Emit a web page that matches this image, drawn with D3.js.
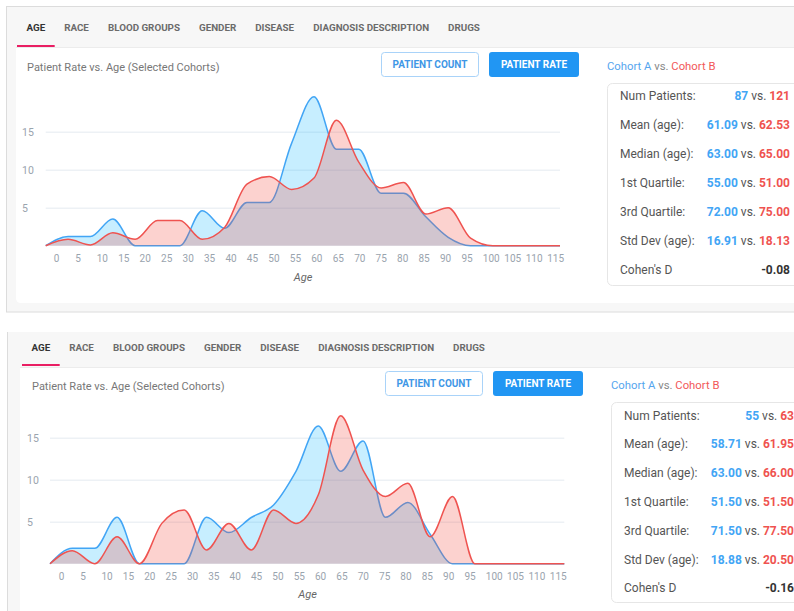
<!DOCTYPE html>
<html><head><meta charset="utf-8">
<script src="https://cdn.jsdelivr.net/npm/d3@7/dist/d3.min.js"></script>
<style>
html,body{margin:0;padding:0;background:#fff;overflow:hidden;}
svg{display:block;font-family:Roboto,"Noto Sans",Arial,sans-serif;}
</style></head>
<body>
<svg id="c" width="794" height="611"></svg>
<script>
// ---------- data ----------
const tabs = ["AGE","RACE","BLOOD GROUPS","GENDER","DISEASE","DIAGNOSIS DESCRIPTION","DRUGS"];
const ageCategories = [0,5,10,15,20,25,30,35,40,45,50,55,60,65,70,75,80,85,90,95,100,105,110,115];
const yTicks = [5,10,15];
const chartTitle = "Patient Rate vs. Age (Selected Cohorts)";
const xAxisTitle = "Age";
const buttons = ["PATIENT COUNT","PATIENT RATE"];
const cohortNames = ["Cohort A","Cohort B"];
const statLabels = ["Num Patients:","Mean (age):","Median (age):","1st Quartile:","3rd Quartile:","Std Dev (age):","Cohen's D"];

// panel 1 (top screenshot)
const rateA1 = [0,1.2,1.2,3.5,0,0,0,4.6,2.3,5.7,5.7,13.5,19.6,12.7,12.7,6.9,6.9,3.8,1.1,0,0,0,0,0];
const rateB1 = [0,0.84,0.1,1.7,0.84,3.3,3.3,0.84,2.4,8.1,9.1,7.4,8.9,16.5,11.0,7.6,8.3,4.17,5.0,1.0,0,0,0,0];
const statsA1 = ["87","61.09","63.00","55.00","72.00","16.91"];
const statsB1 = ["121","62.53","65.00","51.00","75.00","18.13"];
const cohenD1 = "-0.08";

// panel 2 (bottom screenshot)
const rateA2 = [0,1.83,1.83,5.52,0,0,0,5.52,3.7,5.5,7.0,11.0,16.4,11.0,14.6,5.52,7.3,3.5,0,0,0,0,0,0];
const rateB2 = [0,1.55,0,3.2,0,4.8,6.4,1.63,4.8,1.63,6.4,4.8,8.2,17.6,11.15,8.0,9.57,3.2,8.0,0,0,0,0,0];
const statsA2 = ["55","58.71","63.00","51.50","71.50","18.88"];
const statsB2 = ["63","61.95","66.00","51.50","77.50","20.50"];
const cohenD2 = "-0.16";

// ---------- style ----------
const BLUE = "#42a5f5", RED = "#ef5350";
const BLUE_FILL = "rgba(0,176,255,0.22)", RED_FILL = "rgba(244,67,54,0.24)";

const svg = d3.select("#c");

function drawPanel(L, rateA, rateB, statsA, statsB, cohen) {
  const g = svg.append("g");
  // frame
  g.append("rect").attr("x",L.fx).attr("y",L.fy).attr("width",900).attr("height",L.fh)
    .attr("fill","#f7f7f7").attr("stroke", L.border ? "#dcdcdc" : "none").attr("stroke-width",1);
  if (!L.border) g.append("line").attr("x1",L.fx).attr("x2",L.fx).attr("y1",L.fy).attr("y2",L.fy+L.fh)
    .attr("stroke","#dcdcdc");
  // content
  g.append("path").attr("d",
    `M${L.cx},${L.cy} H900 V${L.cb} H${L.cx+5} Q${L.cx},${L.cb} ${L.cx},${L.cb-5} Z`)
    .attr("fill","#fff");
  g.append("line").attr("x1",L.cx).attr("x2",900).attr("y1",L.cy+0.5).attr("y2",L.cy+0.5)
    .attr("stroke","#ececec");

  // tabs
  let tx = L.tabX;
  tabs.forEach((t,i)=>{
    const txt = g.append("text").attr("x",tx+9.5).attr("y",L.tabY).text(t)
      .attr("font-size","9.8px").attr("font-weight","bold")
      .attr("fill", i===0 ? "#333" : "#6b6b6b");
    const w = txt.node().getComputedTextLength();
    if (i===0) g.append("rect").attr("x",tx).attr("y",L.ulY).attr("width",w+19).attr("height",2).attr("fill","#e91e63");
    tx += w + 19;
  });

  // title
  g.append("text").attr("x",L.titleX).attr("y",L.titleY).text(chartTitle)
    .attr("font-size","11px").attr("fill","#777");

  // buttons
  const b1 = g.append("g");
  b1.append("rect").attr("x",L.bx1+0.5).attr("y",L.by+0.5).attr("width",97).attr("height",24).attr("rx",3)
    .attr("fill","#fff").attr("stroke","#a9d3f9");
  b1.append("text").attr("x",L.bx1+49).attr("y",L.by+16).attr("text-anchor","middle").text(buttons[0])
    .attr("font-size","10px").attr("font-weight","bold").attr("fill","#3f97e6");
  const b2 = g.append("g");
  b2.append("rect").attr("x",L.bx2).attr("y",L.by).attr("width",90).attr("height",25).attr("rx",3)
    .attr("fill","#2196f3");
  b2.append("text").attr("x",L.bx2+45).attr("y",L.by+16).attr("text-anchor","middle").text(buttons[1])
    .attr("font-size","10px").attr("font-weight","bold").attr("fill","#fff");

  // cohort header
  const h = g.append("text").attr("x",L.hx).attr("y",L.hy).attr("font-size","11.3px");
  h.append("tspan").text(cohortNames[0]).attr("fill","#55a5ee");
  h.append("tspan").text(" vs. ").attr("fill","#888");
  h.append("tspan").text(cohortNames[1]).attr("fill","#f25858");

  // stats card
  g.append("rect").attr("x",L.kx+0.5).attr("y",L.ky+0.5).attr("width",400).attr("height",L.kh).attr("rx",5)
    .attr("fill","#fff").attr("stroke","#e6e6e6");
  statLabels.forEach((lab,i)=>{
    const yy = L.ry0 + i*L.rstep + 4;
    g.append("text").attr("x",L.lx).attr("y",yy).text(lab).attr("font-size","12px").attr("fill","#555");
    const v = g.append("text").attr("x",L.vx).attr("y",yy).attr("text-anchor","end").attr("font-size","12px");
    if (i < statsA.length) {
      v.append("tspan").text(statsA[i]).attr("fill",BLUE).attr("font-weight","bold");
      v.append("tspan").text(" vs. ").attr("fill","#555");
      v.append("tspan").text(statsB[i]).attr("fill",RED).attr("font-weight","bold");
    } else {
      v.append("tspan").text(cohen).attr("fill","#333").attr("font-weight","bold");
    }
  });

  // chart
  const x = d3.scalePoint().domain(ageCategories).range([L.x0, L.x1]);
  const y = d3.scaleLinear().domain([0,20]).range([L.y0, L.y0 - 20*L.ppu]);
  const xl = d3.scalePoint().domain(ageCategories).range([L.l0, L.l1]);

  // grid
  const grid = g.append("g").attr("transform",`translate(${L.x0},0)`)
    .call(d3.axisLeft(y).tickValues(yTicks).tickSize(-(L.x1-L.x0)).tickFormat(""));
  grid.select(".domain").remove();
  grid.selectAll("line").attr("stroke","#edf1f5").attr("stroke-width",1.6);

  // y labels
  const ya = g.append("g").attr("transform",`translate(${L.ylx},0)`)
    .call(d3.axisLeft(y).tickValues(yTicks).tickSize(0).tickPadding(0));
  ya.select(".domain").remove();
  ya.selectAll("text").attr("text-anchor","start").attr("x",0).attr("dy","0.35em")
    .attr("font-size","10.5px").attr("fill","#9aa4ae").attr("font-family","Roboto,sans-serif");

  // x labels
  const xa = g.append("g").attr("transform",`translate(0,${L.xly})`)
    .call(d3.axisBottom(xl).tickSize(0).tickPadding(0));
  xa.select(".domain").remove();
  xa.selectAll("text").attr("text-anchor","start").attr("y",0).attr("dy",0)
    .attr("font-size","10px").attr("fill","#9aa4ae").attr("font-family","Roboto,sans-serif");

  g.append("text").attr("x",L.axx).attr("y",L.axy).attr("text-anchor","middle").text(xAxisTitle)
    .attr("font-size","11px").attr("font-style","italic").attr("fill","#666");

  const area = d3.area().x((d,i)=>x(ageCategories[i])).y0(y(0)).y1(d=>y(d)).curve(d3.curveMonotoneX);
  const line = d3.line().x((d,i)=>x(ageCategories[i])).y(d=>y(d)).curve(d3.curveMonotoneX);

  [[rateA,BLUE_FILL,BLUE],[rateB,RED_FILL,RED]].forEach(([s,f,c])=>{
    g.append("path").datum(s).attr("d",area).attr("fill",f);
    g.append("path").datum(s).attr("d",line).attr("fill","none").attr("stroke",c).attr("stroke-width",1.5);
  });
}

drawPanel({
  fx:6.5, fy:6.5, fh:305.5, border:true, cx:16, cy:47, cb:303,
  tabX:17, tabY:31, ulY:45,
  titleX:27, titleY:71, bx1:381, bx2:489, by:52,
  hx:607, hy:70, kx:607, ky:83, kh:202, lx:620, vx:790, ry0:96, rstep:29,
  x0:45.7, x1:560, y0:245.7, ppu:7.6, l0:53.3, l1:546.7, xly:262, ylx:22, axx:303, axy:281
}, rateA1, rateB1, statsA1, statsB1, cohenD1);

drawPanel({
  fx:7.5, fy:332, fh:400, border:false, cx:20, cy:367, cb:700,
  tabX:22, tabY:351, ulY:364,
  titleX:32, titleY:390, bx1:385, bx2:493, by:371,
  hx:611, hy:389, kx:611, ky:402, kh:200, lx:624, vx:794, ry0:415.5, rstep:28.8,
  x0:50, x1:564.3, y0:563.7, ppu:8.4, l0:58.3, l1:549.3, xly:579.5, ylx:27, axx:307.5, axy:598
}, rateA2, rateB2, statsA2, statsB2, cohenD2);
</script>
</body></html>
